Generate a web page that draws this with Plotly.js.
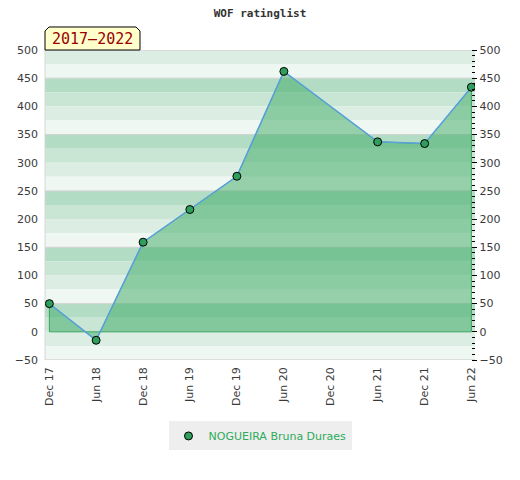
<!DOCTYPE html>
<html>
<head>
<meta charset="utf-8">
<script src="https://cdn.plot.ly/plotly-3.0.1.min.js"></script>
<style>html,body{margin:0;padding:0;background:#fff;}#chart{width:520px;height:480px;}</style>
</head>
<body>
<div id="chart"></div>
<script>
// ---- data ----
var playerName = 'NOGUEIRA Bruna Duraes';
var periodLabel = '2017\u20132022';
var dates = ['2017-12-01','2018-06-01','2018-12-01','2019-06-01','2019-12-01','2020-06-01','2021-06-01','2021-12-01','2022-06-01'];
var ratings = [50, -15, 159, 217, 276, 462, 337, 334, 434];
var tickDates = ['2017-12-01','2018-06-01','2018-12-01','2019-06-01','2019-12-01','2020-06-01','2020-12-01','2021-06-01','2021-12-01','2022-06-01'];
var tickLabels = ['Dec 17','Jun 18','Dec 18','Jun 19','Dec 19','Jun 20','Dec 20','Jun 21','Dec 21','Jun 22'];
var yTicks = [-50, 0, 50, 100, 150, 200, 250, 300, 350, 400, 450, 500];

// ---- styling ----
var yMin = -50, yMax = 500, bandStep = 25;
var bandColors = ['#dceee3', '#eff7f2', '#b3dcc4', '#c9e6d5'];
var shapes = [];
for (var bandTop = yMax, bi = 0; bandTop > yMin; bandTop -= bandStep, bi++) {
  shapes.push({type:'rect', xref:'paper', yref:'y', x0:0, x1:1, y0:bandTop-bandStep, y1:bandTop,
    fillcolor:bandColors[bi % 4], line:{width:0}, layer:'below'});
}
for (var g = yMax - 50; g > yMin; g -= 100) {
  shapes.push({type:'line', xref:'paper', yref:'y', x0:0, x1:1, y0:g, y1:g,
    line:{color:'#d2d2d2', width:1}, layer:'below'});
}
// plot border (top, bottom, left)
shapes.push({type:'line', xref:'paper', yref:'y', x0:0, x1:1, y0:yMax, y1:yMax, line:{color:'#d6d6d6', width:1.5}, layer:'below'});
shapes.push({type:'line', xref:'paper', yref:'y', x0:0, x1:1, y0:yMin, y1:yMin, line:{color:'#d6d6d6', width:1.5}, layer:'below'});
shapes.push({type:'line', xref:'paper', yref:'y', x0:0, x1:0, y0:yMin, y1:yMax, line:{color:'#d6d6d6', width:1}, layer:'below'});
// period tab
shapes.push({type:'path', xref:'paper', yref:'paper',
  path:'M 0 1 L 0 1.0613 L 0.0093 1.0742 L 0.2116 1.0742 L 0.2209 1.0613 L 0.2209 1 Z',
  fillcolor:'#ffffcc', line:{color:'#000', width:1}, layer:'above'});

var polyX = [dates[0]].concat(dates, [dates[dates.length-1], dates[0]]);
var polyY = [0].concat(ratings, [0, 0]);

var traces = [
  {x:polyX, y:polyY, type:'scatter', mode:'lines', fill:'toself',
   fillcolor:'rgba(60,170,100,0.5)', line:{color:'#3aa35f', width:1}, hoverinfo:'skip', showlegend:false},
  {x:dates, y:ratings, type:'scatter', mode:'lines', line:{color:'#5aa0dc', width:1.5}, showlegend:false},
  {x:dates, y:ratings, type:'scatter', mode:'markers', name:playerName, yaxis:'y2',
   marker:{size:8, color:'#2f9d5c', line:{color:'#000', width:1}}}
];

var tickFont = {family:'DejaVu Sans', size:11, color:'#3a3a3a'};
var layout = {
  width:520, height:480,
  margin:{l:45, r:45, t:50, b:120},
  paper_bgcolor:'#fff', plot_bgcolor:'rgba(0,0,0,0)',
  title:{text:'<b>WOF ratinglist</b>', font:{family:'DejaVu Sans Mono', size:11, color:'#333'},
    x:0.5, xanchor:'center', y:1-13/480, yanchor:'middle', yref:'container'},
  xaxis:{type:'date', range:['2017-11-14','2022-06-15'], tickvals:tickDates, ticktext:tickLabels,
    tickangle:-90, ticks:'', showgrid:false, zeroline:false, showline:false, tickfont:tickFont, ticklabelstandoff:4},
  yaxis:{range:[yMin, yMax], tickvals:yTicks, ticks:'', showgrid:false, zeroline:false, showline:false,
    tickfont:tickFont, ticklabelstandoff:6},
  yaxis2:{range:[yMin, yMax], tickvals:yTicks, overlaying:'y', anchor:'free', position:0.9913, side:'right',
    ticks:'outside', ticklen:5, tickcolor:'#000', tickwidth:1,
    minor:{dtick:10, ticks:'outside', ticklen:3, tickcolor:'#000', tickwidth:1},
    showgrid:false, zeroline:false, showline:false, tickfont:tickFont},
  shapes:shapes,
  annotations:[{text:periodLabel, xref:'paper', yref:'paper', x:0.1105, y:1.034, xanchor:'center', yanchor:'middle',
    showarrow:false, font:{family:'DejaVu Sans Mono', size:15, color:'#990000'}}],
  showlegend:true,
  legend:{orientation:'h', x:0.5, xanchor:'center', y:-0.245, yanchor:'middle', bgcolor:'#eeeeee',
    font:{family:'DejaVu Sans', size:11, color:'#2eaa5c'}, itemwidth:30}
};

Plotly.newPlot('chart', traces, layout, {displayModeBar:false, staticPlot:true});
</script>
</body>
</html>
